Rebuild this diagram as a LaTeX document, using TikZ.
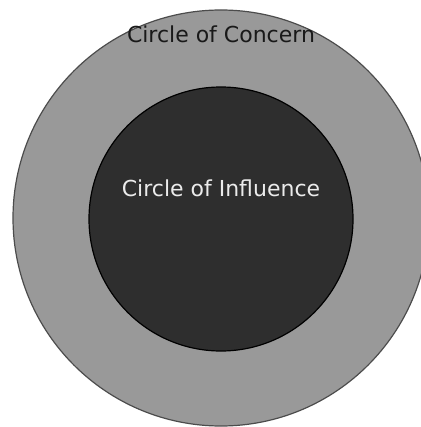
\documentclass[tikz,border=0pt]{standalone}
\usepackage{fontspec}
\setmainfont{DejaVu Sans}
\usepackage{tikz}
\usetikzlibrary{positioning}

\begin{document}
\begin{tikzpicture}[
    x=1pt, y=-1pt,
    ring/.style={circle, inner sep=0pt, draw=black!70, line width=1.2pt},
    label/.style={font=\fontsize{22}{26}\selectfont, inner sep=0pt}
]
    \useasboundingbox (0,0) rectangle (420,427);
    \node (concern) [ring, fill=black!40, minimum size=416pt] at (221,218) {};
    \node (influence) [ring, fill=black!82, draw=black, minimum size=264pt] at (221,219) {};
    \node (concerntext) [label, text=black!90] at (221,34) {Circle of Concern};
    \node (influencetext) [label, text=white!92!black] at (221,188) {Circle of Influence};
\end{tikzpicture}
\end{document}
